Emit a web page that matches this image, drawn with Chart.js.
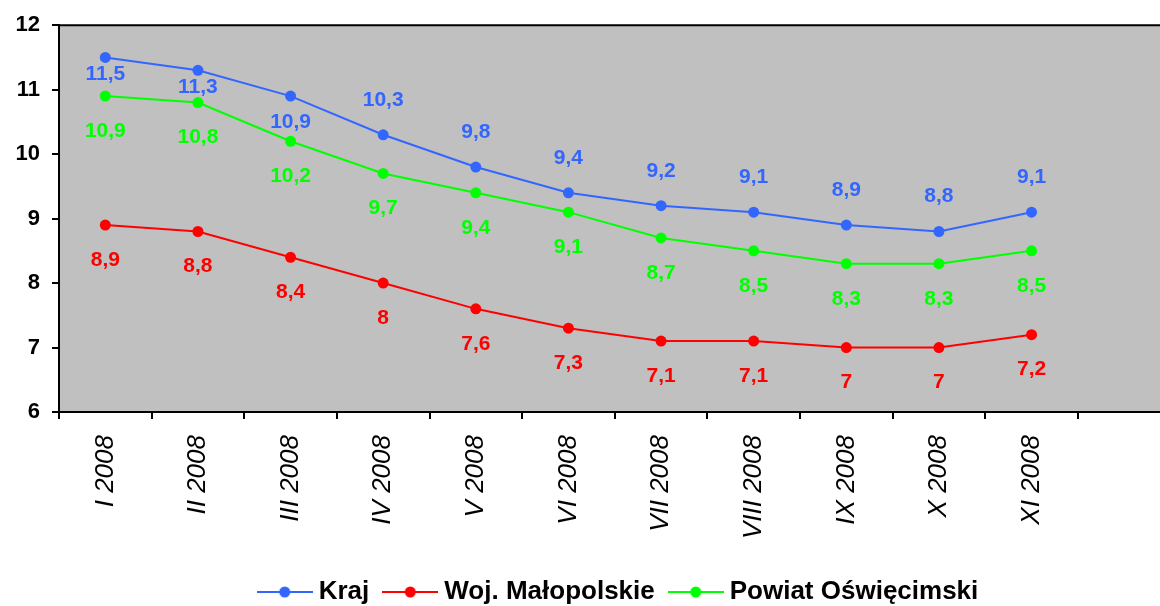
<!DOCTYPE html>
<html>
<head>
<meta charset="utf-8">
<script src="https://cdn.jsdelivr.net/npm/chart.js@4/dist/chart.umd.min.js"></script>
<style>
   html, body { margin: 0; padding: 0; background: #fff; overflow: hidden; }
   #wrap { width: 1176px; height: 606px; }
</style>
</head>
<body>
<div id="wrap"><canvas id="chart"></canvas></div>
<script>
const months = ["I 2008", "II 2008", "III 2008", "IV 2008", "V 2008", "VI 2008",
   "VII 2008", "VIII 2008", "IX 2008", "X 2008", "XI 2008", ""];
const kraj = [11.5, 11.3, 10.9, 10.3, 9.8, 9.4, 9.2, 9.1, 8.9, 8.8, 9.1];
const malopolskie = [8.9, 8.8, 8.4, 8, 7.6, 7.3, 7.1, 7.1, 7, 7, 7.2];
const oswiecimski = [10.9, 10.8, 10.2, 9.7, 9.4, 9.1, 8.7, 8.5, 8.3, 8.3, 8.5];

const blue = "#3366FF";
const red = "#FF0000";
const green = "#00FF00";
const font = "Arial, 'Liberation Sans', sans-serif";

// where the value label sits relative to its point (px, + is below)
const krajLabelDy = [17, 17, 26, -35, -35, -35, -35, -35, -35, -35, -35];

function legendMark(color) {
   const c = document.createElement("canvas");
   c.width = 56;
   c.height = 14;
   const g = c.getContext("2d");
   g.strokeStyle = color;
   g.lineWidth = 2;
   g.beginPath();
   g.moveTo(0, 7);
   g.lineTo(56, 7);
   g.stroke();
   g.fillStyle = color;
   g.beginPath();
   g.arc(28, 7, 5.5, 0, Math.PI * 2);
   g.fill();
   return c;
}
const marks = [legendMark(blue), legendMark(red), legendMark(green)];

const plotBg = {
   id: "plotBg",
   afterLayout(chart) {
      // legend sits a bit right of the canvas centre
      chart.legend.left += 34;
      chart.legend.right += 34;
   },
   beforeDraw(chart) {
      const { ctx, chartArea: a } = chart;
      ctx.save();
      ctx.fillStyle = "#C0C0C0";
      ctx.fillRect(a.left, a.top, a.right - a.left, a.bottom - a.top);
      ctx.strokeStyle = "#000";
      ctx.lineWidth = 2;
      ctx.beginPath();
      ctx.moveTo(a.left, a.top);
      ctx.lineTo(a.right, a.top);
      ctx.lineTo(a.right, a.bottom);
      ctx.stroke();
      ctx.restore();
   }
};

const valueLabels = {
   id: "valueLabels",
   afterDatasetsDraw(chart) {
      const ctx = chart.ctx;
      ctx.save();
      ctx.font = "bold 21px " + font;
      ctx.textAlign = "center";
      ctx.textBaseline = "middle";
      chart.data.datasets.forEach((ds, i) => {
         chart.getDatasetMeta(i).data.forEach((pt, j) => {
            const v = ds.data[j];
            if (v == null) return;
            const dy = Array.isArray(ds.labelDy) ? ds.labelDy[j] : ds.labelDy;
            ctx.fillStyle = ds.borderColor;
            ctx.fillText(String(v).replace(".", ","), pt.x, pt.y + dy);
         });
      });
      ctx.restore();
   }
};

let unemployment = new Chart("chart", {
   type: "line",
   data: {
      labels: months,
      datasets: [
         { label: "Kraj", data: kraj, borderColor: blue, backgroundColor: blue, labelDy: krajLabelDy },
         { label: "Woj. Małopolskie", data: malopolskie, borderColor: red, backgroundColor: red, labelDy: 35 },
         { label: "Powiat Oświęcimski", data: oswiecimski, borderColor: green, backgroundColor: green, labelDy: 35 }
      ]
   },
   options: {
      responsive: true,
      maintainAspectRatio: false,
      animation: false,
      events: [],
      elements: {
         line: { borderWidth: 2, tension: 0 },
         point: { radius: 5.5, borderWidth: 0 }
      },
      layout: { padding: { top: 25, right: 2, bottom: -9, left: 0 } },
      scales: {
         x: {
            offset: true,
            grid: { offset: true, drawOnChartArea: false, color: "#000", lineWidth: 2, tickLength: 7 },
            border: { color: "#000", width: 2 },
            ticks: {
               color: "#000",
               font: { family: font, size: 26, style: "italic" },
               minRotation: 90,
               maxRotation: 90,
               autoSkip: false,
               padding: 16
            },
            afterFit(scale) { scale.height = 147; }
         },
         y: {
            min: 6,
            max: 12,
            ticks: {
               stepSize: 1,
               color: "#000",
               font: { family: font, size: 22, weight: "bold" },
               padding: 12
            },
            grid: { drawOnChartArea: false, color: "#000", lineWidth: 2, tickLength: 7 },
            border: { color: "#000", width: 2 },
            afterFit(scale) { scale.width = 59; }
         }
      },
      plugins: {
         tooltip: { enabled: false },
         legend: {
            position: "bottom",
            labels: {
               color: "#000",
               font: { family: font, size: 26, weight: "bold", lineHeight: 1 },
               usePointStyle: true,
               pointStyleWidth: 42,
               padding: 20,
               generateLabels(chart) {
                  return Chart.defaults.plugins.legend.labels.generateLabels(chart)
                     .map((item, i) => ({ ...item, pointStyle: marks[i] }));
               }
            }
         }
      }
   },
   plugins: [plotBg, valueLabels]
});
</script>
</body>
</html>
